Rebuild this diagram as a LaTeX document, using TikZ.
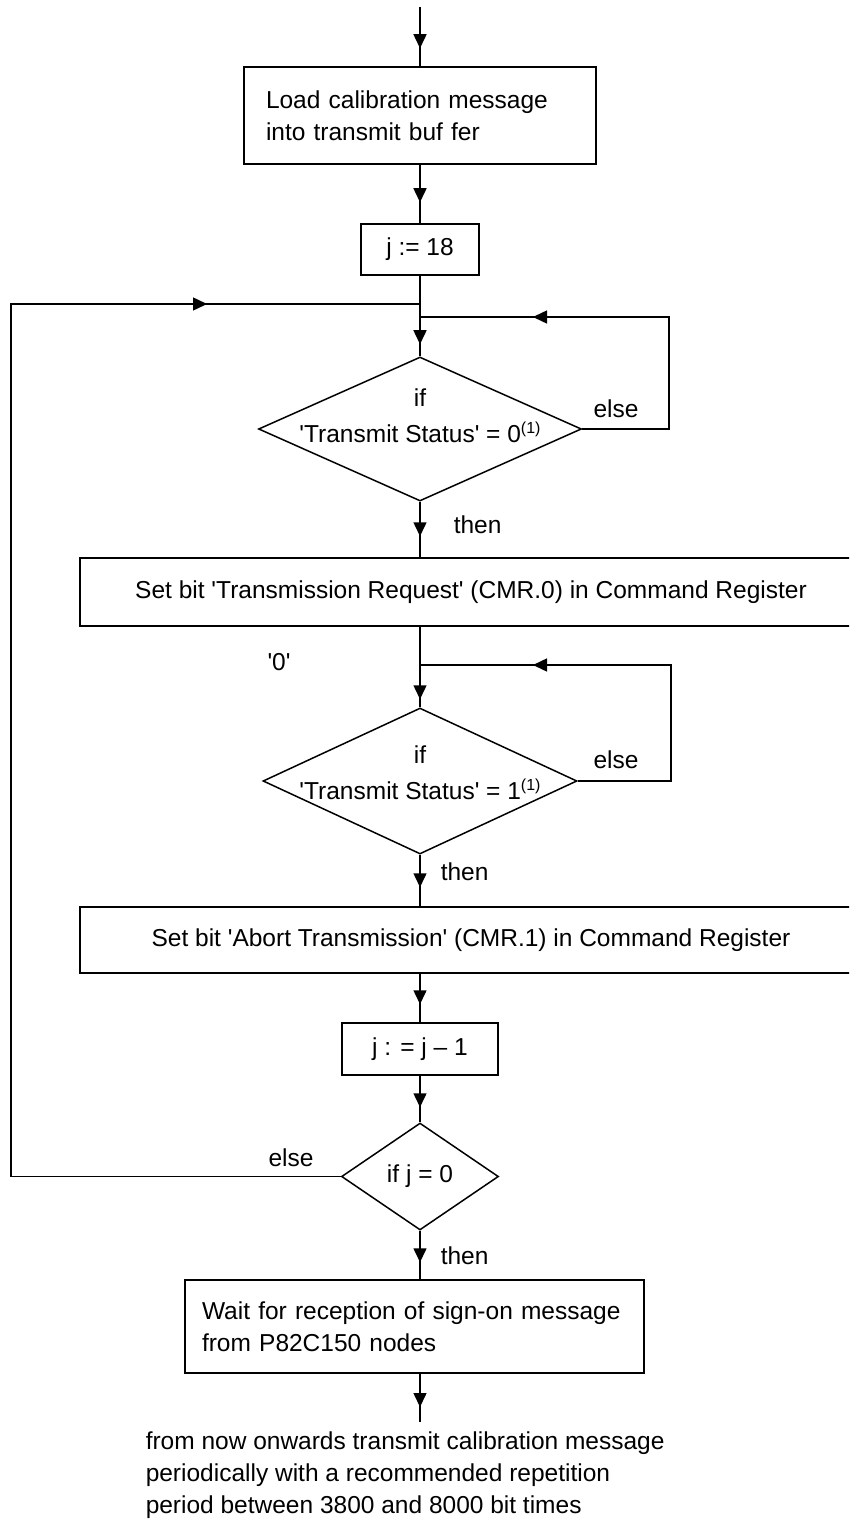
\documentclass[tikz,border=0pt]{standalone}
\usepackage{fontspec}
\setmainfont{Liberation Sans}[Ligatures=TeXOff]
\usetikzlibrary{shapes.geometric,arrows.meta,decorations.markings,calc}
\newcommand\supone{\raisebox{9pt}{\fontsize{16}{16}\selectfont (1)}}
\begin{document}
\begin{tikzpicture}[x=1pt,y=-1pt, line width=1.5pt,
  every node/.style={font=\fontsize{24.5}{32}\selectfont, inner sep=0pt},
  box/.style={draw, rectangle, line width=1.5pt},
  dec/.style={draw, diamond, line width=1.5pt, inner sep=0pt},
  tipat/.style={postaction={decorate}, decoration={markings, mark=at position #1 with {\arrow{Triangle[length=14pt,width=13pt]}}}}]
\useasboundingbox (0,0) rectangle (849,1522);
\clip (0,0) rectangle (849,1522);

% nodes
\coordinate (start) at (420,7);
\node[box, minimum width=352pt, minimum height=97pt, text width=308pt, align=left] (load) at (420,115.5) {Load calibration message\\into transmit buf fer};
\node[box, minimum width=118pt, minimum height=51pt] (j18) at (420,249.5) {j := 18};
\coordinate (m1) at (420,304);
\coordinate (m2) at (420,317);
\node[dec, minimum width=323pt, minimum height=144pt] (d1) at (420,429) {};
\node[align=center] (d1t) at (420,416) {if\\[4pt]'Transmit Status' = 0\supone};
\node (else1) at (616,409) {else};
\node[anchor=west] (then1) at (453,525) {then};
\node[box, minimum width=782pt, minimum height=68pt] (tr) at (471,592) {Set bit 'Transmission Request' (CMR.0) in Command Register};
\node (zero) at (279,662) {'0'};
\coordinate (m3) at (420,665);
\node[dec, minimum width=314pt, minimum height=146pt] (d2) at (420,781) {};
\node[align=center] (d2t) at (420,773) {if\\[4pt]'Transmit Status' = 1\supone};
\node (else2) at (616,760) {else};
\node[anchor=west] (then2) at (440,872) {then};
\node[box, minimum width=782pt, minimum height=66pt] (ab) at (471,940) {Set bit 'Abort Transmission' (CMR.1) in Command Register};
\node[box, minimum width=156pt, minimum height=52pt] (jm1) at (420,1049) {j : = j – 1};
\node[dec, minimum width=157pt, minimum height=107pt] (d3) at (420,1176.5) {if j = 0};
\node (else3) at (291,1158) {else};
\node[anchor=west] (then3) at (440,1256) {then};
\node[box, minimum width=459pt, minimum height=93pt, text width=425pt, align=left] (wait) at (414.5,1326.5) {Wait for reception of sign-on message\\from P82C150 nodes};
\coordinate (end) at (420,1422);
\node[align=left, anchor=west] (note) at (145,1475) {from now onwards transmit calibration message\\periodically with a recommended repetition\\period between 3800 and 8000 bit times};

% loop corners
\coordinate (lc) at (11,304);
\coordinate (r1) at (669,317);
\coordinate (r2) at (671,665);

% connectors
\draw[tipat=-18pt] (start) -- (load);
\draw[tipat=-21pt] (load) -- (j18);
\draw[tipat=-12pt] (j18) -- (d1);
\draw[tipat=-21pt] (d1) -- (d1.south |- tr.north);
\draw[tipat=-8pt] (tr.south -| d2.north) -- (d2);
\draw[tipat=-19pt] (d2) -- (d2.south |- ab.north);
\draw[tipat=-18pt] (ab.south -| jm1.north) -- (jm1);
\draw[tipat=-15pt] (jm1) -- (d3);
\draw[tipat=-17pt] (d3) -- (d3.south |- wait.north);
\draw[tipat=-15pt] (wait.south -| end) -- (end);

\draw[tipat=-213pt] (d3.west) -| (lc) -- (m1);
\draw[tipat=-113pt] (d1.east) -| (r1) -- (m2);
\draw[tipat=-113pt] (d2.east) -| (r2) -- (m3);
\end{tikzpicture}
\end{document}
